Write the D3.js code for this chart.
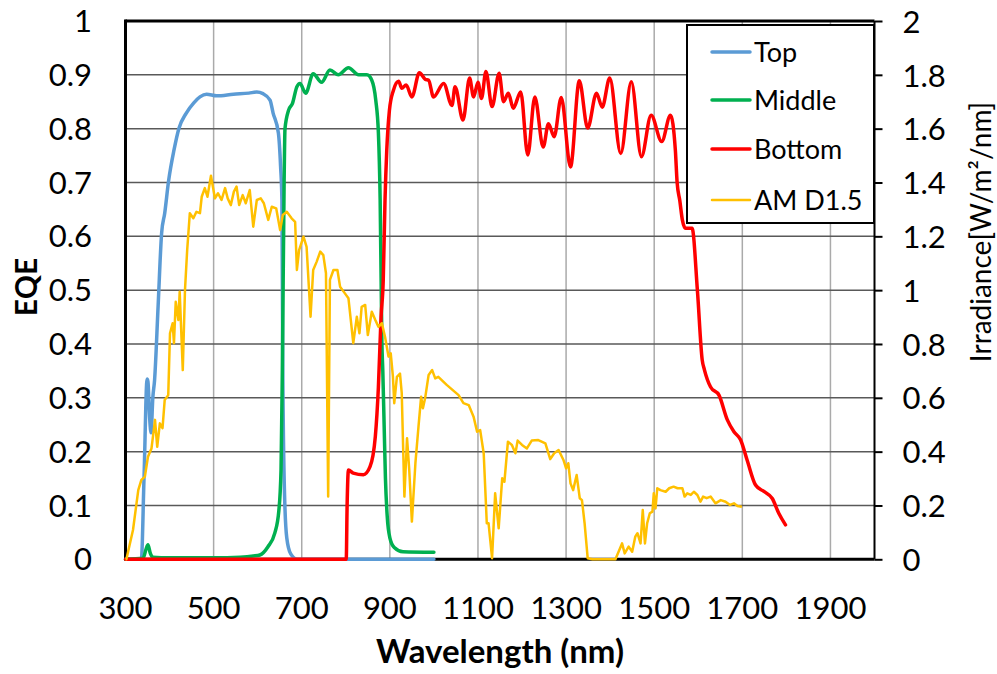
<!DOCTYPE html>
<html>
<head>
<meta charset="utf-8">
<script src="https://cdn.jsdelivr.net/npm/d3@7"></script>
<style>
	body { margin: 0; background: #fff; }
	text { font-family: Lato, "Open Sans", sans-serif; fill: #000; }
	.tick_label { font-size: 31px; }
	.legend { font-size: 27px; }
</style>
</head>
<body>
<script>

// tick labels
var xTicks = [300, 500, 700, 900, 1100, 1300, 1500, 1700, 1900];
var eqeTicks = [0, 0.1, 0.2, 0.3, 0.4, 0.5, 0.6, 0.7, 0.8, 0.9, 1];
var irrTicks = [0, 0.2, 0.4, 0.6, 0.8, 1, 1.2, 1.4, 1.6, 1.8, 2];

var seriesNames = ["Top", "Middle", "Bottom", "AM D1.5"];

// Top cell EQE
var topNm =  [300, 336, 342, 349, 351, 355, 358, 362, 366, 374, 382, 389, 398, 410, 421, 438, 455, 469, 484, 507, 545, 580, 598, 612, 628, 635, 647, 652, 655, 657, 661, 666, 675, 690, 1000];
var topEqe = [0, 0, 0.15, 0.335, 0.33, 0.26, 0.235, 0.3, 0.333, 0.47, 0.606, 0.643, 0.704, 0.76, 0.8, 0.829, 0.848, 0.859, 0.864, 0.861, 0.864, 0.866, 0.868, 0.865, 0.853, 0.829, 0.792, 0.73, 0.667, 0.35, 0.12, 0.04, 0.01, 0, 0];

// Middle cell EQE
var midNm =  [300, 340, 347, 351, 356, 362, 400, 500, 560, 590, 605, 623, 639, 648, 653, 656, 660, 662, 670, 679, 689, 696, 709, 726, 745, 764, 783, 806, 829, 848, 859, 868, 874, 878, 882, 884, 887, 890, 894, 900, 910, 930, 1000];
var midEqe = [0, 0.002, 0.02, 0.027, 0.012, 0.004, 0.003, 0.003, 0.004, 0.006, 0.008, 0.023, 0.049, 0.09, 0.166, 0.352, 0.7, 0.8, 0.834, 0.847, 0.878, 0.884, 0.866, 0.902, 0.886, 0.909, 0.9, 0.913, 0.9, 0.9, 0.89, 0.853, 0.792, 0.667, 0.4, 0.35, 0.25, 0.15, 0.08, 0.04, 0.022, 0.014, 0.013];

// Bottom cell EQE
var botNm =  [300, 801, 803, 806, 817, 840, 855, 867, 874, 880, 885, 889, 893, 899, 908, 920, 927, 937, 950, 967, 980, 988, 999, 1022, 1041, 1048, 1066, 1081, 1090, 1100, 1108, 1118, 1132, 1148, 1158, 1169, 1180, 1197, 1213, 1229, 1248, 1260, 1273, 1289, 1310, 1330, 1349, 1369, 1382, 1399, 1424, 1448, 1471, 1493, 1517, 1537, 1548, 1552, 1558, 1564, 1571, 1586, 1598, 1609, 1614, 1628, 1647, 1666, 1681, 1696, 1711, 1730, 1749, 1768, 1783, 1798];
var botEqe = [0, 0, 0.1, 0.166, 0.16, 0.157, 0.172, 0.228, 0.32, 0.45, 0.519, 0.667, 0.76, 0.834, 0.871, 0.888, 0.875, 0.881, 0.859, 0.904, 0.892, 0.89, 0.859, 0.884, 0.843, 0.878, 0.816, 0.894, 0.859, 0.886, 0.856, 0.906, 0.841, 0.903, 0.85, 0.866, 0.838, 0.868, 0.751, 0.859, 0.766, 0.809, 0.785, 0.858, 0.729, 0.889, 0.801, 0.866, 0.84, 0.894, 0.754, 0.887, 0.748, 0.825, 0.776, 0.825, 0.76, 0.7, 0.667, 0.63, 0.615, 0.615, 0.5, 0.37, 0.352, 0.32, 0.305, 0.259, 0.237, 0.222, 0.184, 0.138, 0.126, 0.113, 0.085, 0.064];

// AM D1.5 irradiance (W/m2/nm)
var amNm =  [300, 302, 317, 329, 336, 344, 351, 359, 367, 372, 378, 384, 389, 397, 401, 407, 410, 414, 420, 423, 430, 435, 440, 446, 454, 461, 469, 473, 480, 486, 494, 503, 510, 518, 526, 532, 539, 546, 552, 558, 566, 573, 582, 590, 598, 607, 614, 624, 632, 642, 651, 657, 666, 677, 685, 689, 694, 704, 711, 720, 726, 734, 742, 749, 755, 760, 764, 772, 781, 787, 798, 806, 817, 825, 831, 836, 844, 850, 859, 867, 874, 882, 889, 897, 902, 907, 910, 916, 923, 927, 933, 939, 944, 950, 958, 965, 971, 975, 980, 988, 996, 1003, 1010, 1029, 1056, 1067, 1079, 1090, 1098, 1105, 1113, 1120, 1124, 1132, 1139, 1147, 1155, 1160, 1168, 1177, 1185, 1190, 1200, 1211, 1222, 1237, 1253, 1264, 1273, 1283, 1294, 1300, 1305, 1310, 1316, 1324, 1331, 1336, 1342, 1349, 1360, 1412, 1427, 1433, 1442, 1450, 1457, 1462, 1469, 1474, 1479, 1484, 1490, 1496, 1499, 1503, 1507, 1514, 1526, 1534, 1544, 1553, 1564, 1569, 1575, 1583, 1590, 1598, 1605, 1611, 1619, 1628, 1639, 1651, 1662, 1672, 1681, 1689, 1699];
var amIrr = [0, 0, 0.109, 0.257, 0.295, 0.307, 0.381, 0.412, 0.518, 0.418, 0.505, 0.487, 0.592, 0.61, 0.84, 0.877, 0.803, 0.957, 0.889, 0.994, 0.703, 1.0, 1.149, 1.286, 1.267, 1.291, 1.286, 1.347, 1.379, 1.347, 1.425, 1.341, 1.36, 1.335, 1.379, 1.341, 1.316, 1.366, 1.385, 1.316, 1.353, 1.323, 1.372, 1.236, 1.335, 1.341, 1.323, 1.261, 1.31, 1.304, 1.223, 1.279, 1.291, 1.267, 1.254, 1.075, 1.149, 1.199, 1.161, 0.901, 1.075, 1.106, 1.143, 1.13, 1.063, 0.233, 1.038, 1.075, 1.075, 1.013, 0.988, 0.97, 0.803, 0.901, 0.84, 0.938, 0.945, 0.833, 0.92, 0.889, 0.864, 0.877, 0.827, 0.753, 0.765, 0.678, 0.58, 0.678, 0.69, 0.617, 0.233, 0.45, 0.332, 0.14, 0.357, 0.493, 0.604, 0.561, 0.598, 0.685, 0.703, 0.672, 0.678, 0.648, 0.61, 0.58, 0.573, 0.53, 0.474, 0.48, 0.394, 0.134, 0.134, 0.004, 0.245, 0.115, 0.301, 0.288, 0.437, 0.425, 0.394, 0.441, 0.425, 0.412, 0.441, 0.443, 0.431, 0.372, 0.394, 0.406, 0.369, 0.338, 0.357, 0.282, 0.257, 0.313, 0.227, 0.22, 0.134, 0.004, 0, 0, 0.059, 0.022, 0.047, 0.028, 0.084, 0.097, 0.059, 0.183, 0.059, 0.134, 0.171, 0.177, 0.245, 0.189, 0.264, 0.257, 0.251, 0.264, 0.27, 0.264, 0.264, 0.233, 0.245, 0.239, 0.251, 0.239, 0.214, 0.233, 0.227, 0.233, 0.208, 0.22, 0.214, 0.202, 0.208, 0.198, 0.195];

var w = 997;
var h = 674;
var pLeft = 125.5, pRight = 874.5, pTop = 21, pBottom = 559.3;

//Define scales
var xScale = d3.scaleLinear().domain([300, 2000]).range([pLeft, pRight]);
var yScale = d3.scaleLinear().domain([0, 1]).range([pBottom, pTop]);
var y2Scale = d3.scaleLinear().domain([0, 2]).range([pBottom, pTop]);

//Create SVG element
var svg = d3.select("body")
			.append("svg")
			.attr("width", w)
			.attr("height", h);

//Vertical grid
svg.selectAll("line.vgrid")
   .data(xTicks.slice(1))
   .enter()
   .append("line")
   .attr("class", "vgrid")
   .attr("x1", d => xScale(d))
   .attr("x2", d => xScale(d))
   .attr("y1", pTop)
   .attr("y2", pBottom)
   .attr("stroke", "#aaaaaa")
   .attr("stroke-width", 1.5);

//Horizontal grid
svg.selectAll("line.hgrid")
   .data(eqeTicks.slice(1, -1))
   .enter()
   .append("line")
   .attr("class", "hgrid")
   .attr("x1", pLeft)
   .attr("x2", pRight)
   .attr("y1", d => yScale(d))
   .attr("y2", d => yScale(d))
   .attr("stroke", "#595959")
   .attr("stroke-width", 1.5);

//Axis lines
svg.append("line") // bottom
	.attr("x1", pLeft - 1.5).attr("x2", pRight)
	.attr("y1", pBottom).attr("y2", pBottom)
	.attr("stroke", "#000").attr("stroke-width", 3);
svg.append("line") // left
	.attr("x1", pLeft).attr("x2", pLeft)
	.attr("y1", pTop - 1.5).attr("y2", pBottom + 1.5)
	.attr("stroke", "#000").attr("stroke-width", 3);
svg.append("line") // top
	.attr("x1", pLeft).attr("x2", pRight)
	.attr("y1", pTop).attr("y2", pTop)
	.attr("stroke", "#000").attr("stroke-width", 3);

//Right axis
var y2Axis = d3.axisRight(y2Scale)
	.tickValues(irrTicks)
	.tickSize(8)
	.tickPadding(20)
	.tickFormat(d3.format("~g"));

var gRight = svg.append("g")
	.attr("transform", "translate(" + pRight + ",0)")
	.attr("font-family", null)
	.attr("font-size", null)
	.call(y2Axis);
gRight.attr("font-family", null).attr("font-size", null);
gRight.select(".domain").attr("stroke", "#000").attr("stroke-width", 2).attr("d", "M0," + pTop + "V" + pBottom);
gRight.selectAll(".tick line").attr("stroke", "#000").attr("stroke-width", 2);
gRight.selectAll(".tick text")
	.attr("class", "tick_label")
	.attr("fill", "#000")
	.attr("dy", "0.36em");

//Left tick labels
svg.selectAll("text.ylab")
   .data(eqeTicks)
   .enter()
   .append("text")
   .attr("class", "tick_label")
   .attr("x", 92)
   .attr("y", d => yScale(d))
   .attr("dy", "0.36em")
   .attr("text-anchor", "end")
   .text(d => d3.format("~g")(d));

//Bottom tick labels
svg.selectAll("text.xlab")
   .data(xTicks)
   .enter()
   .append("text")
   .attr("class", "tick_label")
   .attr("x", d => xScale(d))
   .attr("y", 619)
   .attr("text-anchor", "middle")
   .text(d => d);

//Series
var line = d3.line()
	.x(d => xScale(d[0]))
	.y(d => yScale(d[1]))
	.curve(d3.curveMonotoneX);

var line2 = d3.line()
	.x(d => xScale(d[0]))
	.y(d => y2Scale(d[1]));

var cells = [
	{nm: topNm, v: topEqe, color: "#5b9bd5"},
	{nm: midNm, v: midEqe, color: "#00b050"},
	{nm: botNm, v: botEqe, color: "#ff0000"}
];

cells.forEach(c => {
	svg.append("path")
		.attr("d", line(d3.zip(c.nm, c.v)))
		.attr("fill", "none")
		.attr("stroke", c.color)
		.attr("stroke-width", 3.5)
		.attr("stroke-linejoin", "round")
		.attr("stroke-linecap", "round");
});

svg.append("path")
	.attr("d", line2(d3.zip(amNm, amIrr)))
	.attr("fill", "none")
	.attr("stroke", "#ffc000")
	.attr("stroke-width", 2.5)
	.attr("stroke-linejoin", "round");

//Axis titles
svg.append("text")
	.text("Wavelength (nm)")
	.attr("x", 500)
	.attr("y", 663)
	.attr("text-anchor", "middle")
	.attr("font-weight", "bold")
	.attr("font-size", "33px");

svg.append("text")
	.text("EQE")
	.attr("transform", "translate(37,287) rotate(-90)")
	.attr("text-anchor", "middle")
	.attr("font-weight", "bold")
	.attr("font-size", "30px");

svg.append("text")
	.text("Irradiance[W/m²/nm]")
	.attr("transform", "translate(991,232) rotate(-90)")
	.attr("text-anchor", "middle")
	.attr("font-size", "28px");

//Legend
svg.append("rect")
	.attr("x", 687)
	.attr("y", 25)
	.attr("width", 187)
	.attr("height", 198)
	.attr("fill", "#fff")
	.attr("stroke", "#000")
	.attr("stroke-width", 2);

var legendColors = ["#5b9bd5", "#00b050", "#ff0000", "#ffc000"];
var legendY = [52, 100, 149, 200];

seriesNames.forEach((name, i) => {
	svg.append("line")
		.attr("x1", 712).attr("x2", 750)
		.attr("y1", legendY[i]).attr("y2", legendY[i])
		.attr("stroke", legendColors[i])
		.attr("stroke-width", i < 3 ? 3.5 : 2.5)
		.attr("stroke-linecap", "round");
	svg.append("text")
		.text(name)
		.attr("class", "legend")
		.attr("x", 754)
		.attr("y", legendY[i])
		.attr("dy", "0.36em");
});

</script>
</body>
</html>
